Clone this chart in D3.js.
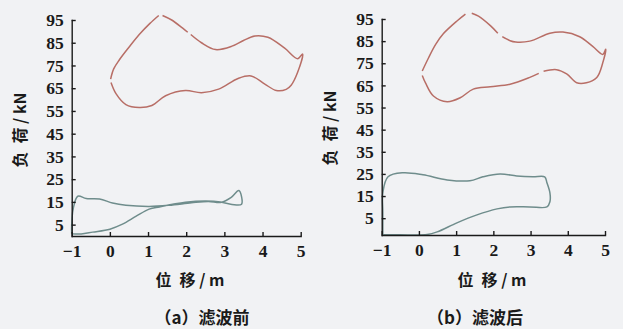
<!DOCTYPE html>
<html>
<head>
<meta charset="utf-8">
<script src="https://cdn.jsdelivr.net/npm/d3@7"></script>
<style>
  body { margin: 0; background: #f1f2f4; }
  svg { display: block; background: #f1f2f4; }
  .axis path, .axis line { stroke: #1a1a1a; stroke-width: 1.4; }
  .axis text { font-family: "Liberation Serif", "DejaVu Serif", serif; font-size: 17.5px; font-weight: bold; fill: #1a1a1a; }
  .cap { font-family: "Noto Sans CJK SC", sans-serif; font-weight: bold; fill: #1a1a1a; white-space: pre; }
</style>
</head>
<body>
<script>
// tick values
var xTicks = [-1, 0, 1, 2, 3, 4, 5];
var yTicks = [5, 15, 25, 35, 45, 55, 65, 75, 85, 95];

// (a) before filtering — red loop, split where the scan shows gaps
var redA = [
  [[0.02, 69], [0.1, 73.5], [0.25, 77.5], [0.5, 83], [0.77, 88.6], [1.05, 93.5], [1.28, 97]],
  [[1.38, 97], [1.62, 95], [1.9, 91.5], [2.04, 89.6]],
  [[2.12, 88.6], [2.4, 85], [2.77, 82], [3.2, 83.5], [3.5, 86], [3.8, 88], [4.14, 87.4], [4.58, 82.6], [4.92, 78], [5.05, 80],
   [4.92, 72], [4.75, 66.3], [4.62, 64.5], [4.36, 64], [4.06, 66.8], [3.7, 70.4], [3.36, 69.3], [2.85, 64.6], [2.4, 63],
   [1.98, 64], [1.46, 61.7], [1.1, 57.4], [0.77, 56.5], [0.42, 57.8], [0.16, 62.6], [0.03, 67.5]]
];
// (a) green loop
var greenA = [
  [-1, 1], [-1, 5], [-0.96, 12], [-0.84, 17.5], [-0.62, 16.5], [-0.27, 16.3], [0.07, 14.5], [0.42, 13.5],
  [1.03, 13], [1.55, 13.5], [2.14, 14.6], [2.58, 15.2], [2.92, 14.8], [3.18, 17], [3.38, 20], [3.45, 14],
  [3.2, 13.9], [2.9, 15], [2.5, 15.4], [1.98, 14.8], [1.3, 12.8], [1.03, 11.8], [0.69, 8.7], [0.33, 5.2],
  [0, 3], [-0.45, 1.7], [-0.75, 0.9], [-1, 1]
];

// (b) after filtering — red loop
var redB = [
  [[0.09, 71.5], [0.26, 77.5], [0.45, 83.5], [0.66, 88.4], [1.03, 94.2], [1.25, 97.2]],
  [[1.42, 97.6], [1.6, 96.3], [1.92, 92], [2.12, 88.6]],
  [[2.24, 87], [2.45, 85.2], [2.6, 84.6], [2.98, 85], [3.52, 88.6], [3.87, 89.1], [4.32, 87], [4.67, 82.6], [4.94, 79], [5.02, 81.3],
   [4.94, 75.2], [4.78, 68.6], [4.5, 66.2], [4.24, 66.2], [3.97, 70.2], [3.7, 72.1], [3.35, 71.4]],
  [[3.22, 70.4], [2.98, 68.6], [2.45, 65.5], [1.92, 64.4], [1.46, 63.3], [1.11, 59.4], [0.76, 57.6],
   [0.39, 60.2], [0.18, 66], [0.09, 69.5]]
];
// (b) green loop
var greenB = [
  [-0.97, -2.4], [-0.97, 8], [-0.97, 16.4], [-0.83, 23.7], [-0.43, 25.5], [0.11, 24.6], [0.76, 22.3],
  [1.37, 21.9], [1.72, 23.7], [2.18, 25], [2.63, 24.1], [3.06, 23.7], [3.38, 23.7], [3.44, 21], [3.52, 16.4],
  [3.52, 12.4], [3.44, 10.1], [2.98, 10.1], [2.45, 10.1], [2.1, 9.2], [1.56, 6.5], [1.02, 2.9], [0.49, -1.2],
  [0.22, -2.4], [-0.5, -2.5], [-0.97, -2.4]
];

var W = 623, H = 329;
var svg = d3.select("body").append("svg").attr("width", W).attr("height", H);

var panels = [
  { red: redA, green: greenA, xr: [71.7, 300.7], yd: [0, 95], yr: [236, 20],
    ylabX: 20, ylabY: 130, xlabX: 190, capX: 202, cap: "（a）滤波前" },
  { red: redB, green: greenB, xr: [381.7, 605], yd: [-2.6, 95], yr: [235, 19],
    ylabX: 330, ylabY: 128, xlabX: 492, capX: 475, cap: "（b）滤波后" }
];

panels.forEach(function(p) {
  var x = d3.scaleLinear().domain([-1, 5]).range(p.xr);
  var y = d3.scaleLinear().domain(p.yd).range(p.yr);
  var line = d3.line().x(d => x(d[0])).y(d => y(d[1])).curve(d3.curveCatmullRom.alpha(0.5));

  var g = svg.append("g");

  g.selectAll(".red").data(p.red).enter().append("path")
    .attr("d", line)
    .attr("fill", "none")
    .attr("stroke", "#b86e66")
    .attr("stroke-width", 1.5);

  g.append("path")
    .attr("d", line(p.green))
    .attr("fill", "none")
    .attr("stroke", "#6f8d8c")
    .attr("stroke-width", 1.5);

  g.append("g").attr("class", "axis")
    .attr("transform", `translate(0, ${p.yr[0]})`)
    .call(d3.axisBottom(x).tickValues(xTicks).tickSizeInner(-4).tickSizeOuter(0).tickPadding(9)
      .tickFormat(d => d < 0 ? "\u2212" + Math.abs(d) : d));

  g.append("g").attr("class", "axis")
    .attr("transform", `translate(${p.xr[0]}, 0)`)
    .call(d3.axisLeft(y).tickValues(yTicks).tickSizeInner(-4).tickSizeOuter(0).tickPadding(8));

  g.selectAll(".axis .domain").attr("stroke-linecap", "square");

  g.append("text").attr("class", "cap")
    .attr("transform", `translate(${p.ylabX}, ${p.ylabY}) rotate(-90)`)
    .attr("text-anchor", "middle").attr("dy", "0.35em")
    .style("font-size", "16px")
    .text("负\u2002荷 / kN");

  g.append("text").attr("class", "cap")
    .attr("x", p.xlabX).attr("y", 280).attr("dy", "0.35em")
    .attr("text-anchor", "middle")
    .style("font-size", "16px")
    .text("位\u2002移 / m");

  g.append("text").attr("class", "cap")
    .attr("x", p.capX).attr("y", 318).attr("dy", "0.35em")
    .attr("text-anchor", "middle")
    .style("font-size", "17px")
    .text(p.cap);
});
</script>
</body>
</html>
